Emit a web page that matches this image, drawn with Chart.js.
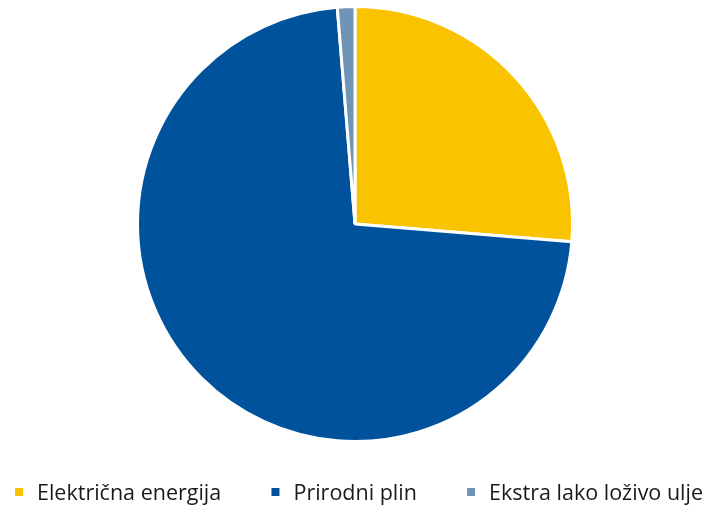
<!DOCTYPE html>
<html>
<head>
<meta charset="utf-8">
<script src="https://cdn.jsdelivr.net/npm/chart.js@4/dist/chart.umd.min.js"></script>
<style>
html,body{margin:0;padding:0;background:#fff;}
#wrap{width:705px;height:510px;position:relative;}
</style>
</head>
<body>
<div id="wrap"><canvas id="c"></canvas></div>
<script>
const categories = ["Električna energija", "Prirodni plin", "Ekstra lako loživo ulje"];
const shares = [26.3, 72.4, 1.3];
const colors = ["#F9C300", "#00529C", "#6F95B6"];

const legendPlugin = {
  id: 'customLegend',
  afterDraw(chart) {
    const ctx = chart.ctx;
    ctx.save();
    ctx.font = '21.5px "Open Sans"';
    ctx.textBaseline = 'middle';
    const box = 8, gapText = 14;
    const widths = categories.map(t => box + gapText + ctx.measureText(t).width);
    const left = 15, right = 703;
    const total = widths.reduce((a, b) => a + b, 0);
    const gap = (right - left - total) / (categories.length - 1);
    const y = 493;
    let x = left;
    categories.forEach((t, i) => {
      ctx.fillStyle = colors[i];
      ctx.fillRect(x, y - 5, box, box);
      ctx.fillStyle = '#1a1a1a';
      ctx.fillText(t, x + box + gapText, y + 1);
      x += widths[i] + gap;
    });
    ctx.restore();
  }
};

new Chart(document.getElementById('c'), {
  type: 'pie',
  data: {
    labels: categories,
    datasets: [{
      data: shares,
      backgroundColor: colors,
      borderColor: '#ffffff',
      borderWidth: 3,
      hoverOffset: 0
    }]
  },
  options: {
    responsive: true,
    maintainAspectRatio: false,
    animation: false,
    layout: { padding: { top: 5, bottom: 67, left: 5, right: 0 } },
    plugins: {
      legend: { display: false },
      tooltip: { enabled: false }
    }
  },
  plugins: [legendPlugin]
});
</script>
</body>
</html>
